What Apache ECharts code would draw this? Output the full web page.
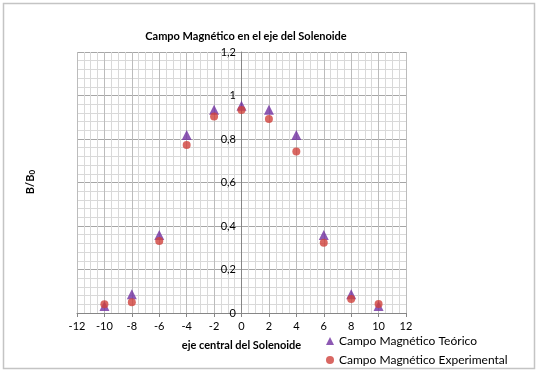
<!DOCTYPE html>
<html>
<head>
<meta charset="utf-8">
<script src="https://cdn.jsdelivr.net/npm/echarts@6/dist/echarts.min.js"></script>
<style>html,body{margin:0;padding:0;background:#fff;}#c{width:539px;height:373px;}</style>
</head>
<body>
<div id="c"></div>
<script>
var positions = [-10, -8, -6, -4, -2, 0, 2, 4, 6, 8, 10];
var teorico = [0.032, 0.086, 0.359, 0.818, 0.934, 0.953, 0.935, 0.818, 0.359, 0.086, 0.032];
var experimental = [0.040, 0.050, 0.331, 0.772, 0.903, 0.933, 0.892, 0.742, 0.323, 0.064, 0.041];
var titleText = 'Campo Magnético en el eje del Solenoide';
var xName = 'eje central del Solenoide';
var seriesNames = ['Campo Magnético Teórico', 'Campo Magnético Experimental'];

var font = 'Lato, "Open Sans", sans-serif';
function pairs(xs, ys) { return xs.map(function (x, i) { return [x, ys[i]]; }); }

var chart = echarts.init(document.getElementById('c'));
chart.setOption({
  animation: false,
  backgroundColor: '#fff',
  title: {
    text: titleText,
    left: 241, top: 26, textAlign: 'center',
    textStyle: { fontFamily: font, fontSize: 11, fontWeight: 'bold', color: '#000' }
  },
  graphic: [
    { type: 'rect', shape: { x: 3.5, y: 3.5, width: 531, height: 365 }, style: { fill: 'none', stroke: '#c4c4c4', lineWidth: 1.5 }, z: -1 },
    { type: 'text', x: 30, y: 182, rotation: Math.PI / 2,
      style: { text: '{b|B/B}{s|0}', rich: { b: { fontFamily: font, fontSize: 11, fontWeight: 'bold', fill: '#000' }, s: { fontFamily: font, fontSize: 8, fontWeight: 'bold', fill: '#000', verticalAlign: 'bottom', padding: [4, 0, 0, 0] } }, align: 'center', verticalAlign: 'middle' } }
  ],
  legend: {
    orient: 'vertical', left: 321, top: 330, itemGap: 7, itemWidth: 8, itemHeight: 8,
    textStyle: { fontFamily: font, fontSize: 12, color: '#000' },
    data: [{ name: seriesNames[0], icon: 'triangle' }, { name: seriesNames[1], icon: 'circle' }]
  },
  grid: { left: 77, right: 133, top: 52, bottom: 60, containLabel: false },
  xAxis: {
    type: 'value', min: -12, max: 12, interval: 2,
    name: xName, nameLocation: 'middle', nameGap: 27,
    nameTextStyle: { fontFamily: font, fontSize: 11, fontWeight: 'bold', color: '#000' },
    axisLine: { show: true, onZero: true, lineStyle: { color: '#868686', width: 1 } },
    axisTick: { show: true, length: 4, inside: false, lineStyle: { color: '#868686' } },
    axisLabel: { fontFamily: font, fontSize: 11, color: '#000', margin: 8 },
    splitLine: { show: true, lineStyle: { color: '#bcbcbc', width: 1 } },
    minorTick: { show: false, splitNumber: 4 },
    minorSplitLine: { show: true, lineStyle: { color: '#d9d9d9', width: 1 } }
  },
  yAxis: {
    type: 'value', min: 0, max: 1.2, interval: 0.2,
    axisLine: { show: true, onZero: true, lineStyle: { color: '#868686', width: 1 } },
    axisTick: { show: false },
    axisLabel: { fontFamily: font, fontSize: 11, color: '#000', margin: -159,
      formatter: function (v) { return String(Math.round(v * 10) / 10).replace('.', ','); } },
    splitLine: { show: true, lineStyle: { color: '#a6a6a6', width: 1 } },
    minorTick: { show: false, splitNumber: 5 },
    minorSplitLine: { show: true, lineStyle: { color: '#d9d9d9', width: 1 } }
  },
  series: [
    { name: seriesNames[0], type: 'scatter', symbol: 'triangle', symbolSize: 10,
      itemStyle: { color: '#7030a0' }, data: pairs(positions, teorico), z: 2 },
    { name: seriesNames[1], type: 'scatter', symbol: 'circle', symbolSize: 8,
      itemStyle: { color: '#d0413b' }, data: pairs(positions, experimental), z: 3 }
  ]
});
</script>
</body>
</html>
